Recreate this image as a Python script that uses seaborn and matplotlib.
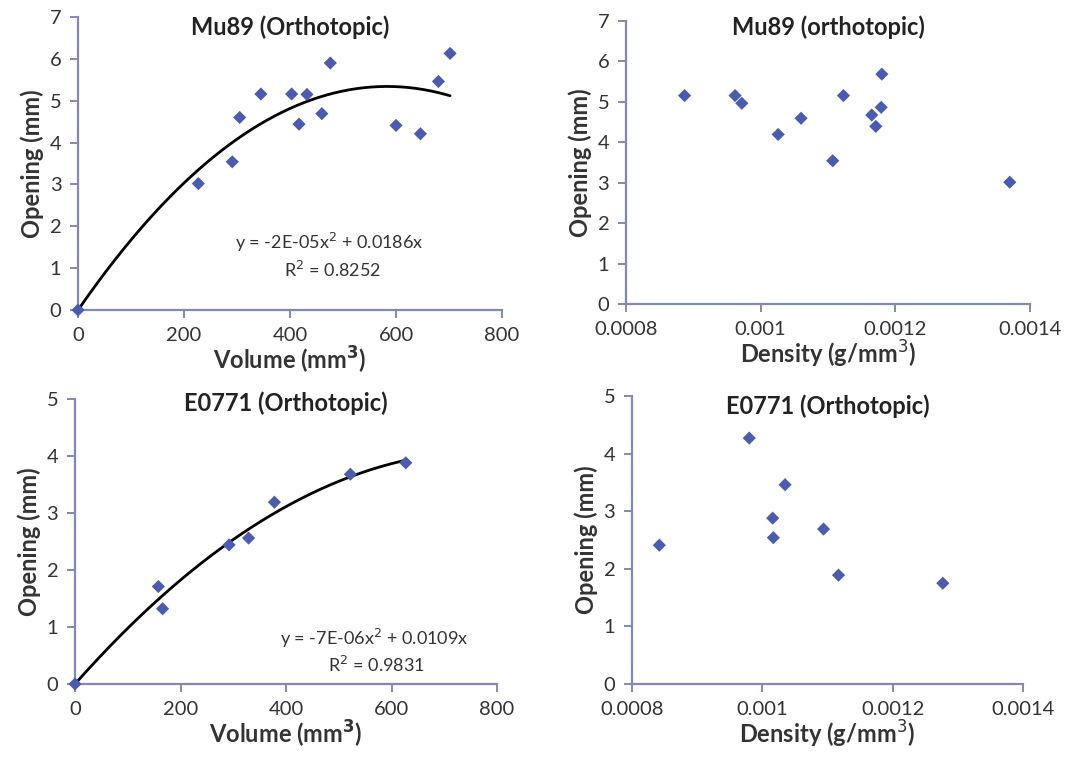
import numpy as np
import pandas as pd
import seaborn as sns
import matplotlib.pyplot as plt

# --------------------
# Data
# --------------------
mu89_volume = [0, 227, 291, 305, 345, 403, 417, 432, 460, 476, 600, 646, 680, 702]
mu89_open_v = [0, 3.02, 3.54, 4.60, 5.16, 5.16, 4.44, 5.15, 4.69, 5.90, 4.41, 4.21, 5.46, 6.13]

mu89_density = [0.000887, 0.000962, 0.000972, 0.001026, 0.001060, 0.001107,
                0.001123, 0.001165, 0.001171, 0.001179, 0.001180, 0.001370]
mu89_open_d = [5.15, 5.15, 4.96, 4.19, 4.59, 3.54, 5.15, 4.67, 4.39, 4.86, 5.68, 3.01]

e0771_volume = [0, 158, 166, 292, 329, 378, 522, 627]
e0771_open_v = [0, 1.71, 1.32, 2.44, 2.56, 3.19, 3.68, 3.88]

e0771_density = [0.000842, 0.000980, 0.001016, 0.001017, 0.001035, 0.001094, 0.001117, 0.001277]
e0771_open_d = [2.41, 4.27, 2.88, 2.54, 3.46, 2.69, 1.89, 1.75]

marker_color = "#4a5bb0"
spine_color = "#8088b8"
text_color = "#333333"

sns.set_style("white")
plt.rcParams["font.family"] = ["Lato", "DejaVu Sans"]

fig = plt.figure(figsize=(10.81, 7.61), dpi=100)
ax1 = fig.add_axes([0.0722, 0.5926, 0.3922, 0.3851])
ax2 = fig.add_axes([0.5791, 0.6005, 0.3737, 0.3723])
ax3 = fig.add_axes([0.0694, 0.1012, 0.3904, 0.3745])
ax4 = fig.add_axes([0.5846, 0.1012, 0.3617, 0.3784])


def style(ax, title, title_y, xlabel, ylim, xlim, xticks, xticklabels):
    ax.set_xlim(*xlim)
    ax.set_ylim(0, ylim)
    ax.set_xticks(xticks)
    ax.set_xticklabels(xticklabels)
    ax.set_yticks(range(0, ylim + 1))
    sns.despine(ax=ax)
    for s in ["left", "bottom"]:
        ax.spines[s].set_color(spine_color)
        ax.spines[s].set_linewidth(1.6)
    ax.tick_params(axis="both", direction="out", length=6, width=1.4,
                   color=spine_color, labelsize=14.5, labelcolor=text_color,
                   left=True, bottom=True, pad=6)
    ax.set_xlabel(xlabel, fontsize=17, fontweight="bold", color=text_color, labelpad=1)
    ax.set_ylabel("Opening (mm)", fontsize=17, fontweight="bold", color=text_color, labelpad=4)
    ax.text(0.5, title_y, title, transform=ax.transAxes, ha="center", va="center",
            fontsize=17, fontweight="bold", color="#222222")


def quad_fit(x, y):
    # trendline through the origin: y = a x^2 + b x
    x = np.asarray(x, float)
    y = np.asarray(y, float)
    A = np.column_stack([x ** 2, x])
    return np.linalg.lstsq(A, y, rcond=None)[0]


def scatter(ax, x, y):
    df = pd.DataFrame({"x": x, "y": y})
    sns.scatterplot(data=df, x="x", y="y", ax=ax, marker="D", s=45,
                    color=marker_color, edgecolor="none", clip_on=False, zorder=4)


# Mu89 volume
scatter(ax1, mu89_volume, mu89_open_v)
a, b = quad_fit(mu89_volume, mu89_open_v)
xs = np.linspace(0, max(mu89_volume), 200)
ax1.plot(xs, a * xs ** 2 + b * xs, color="black", lw=2, zorder=3)
ax1.text(0.37, 0.229, "y = -2E-05x$^2$ + 0.0186x", transform=ax1.transAxes,
         ha="left", va="center", fontsize=13, color=text_color)
ax1.text(0.60, 0.137, "R$^2$ = 0.8252", transform=ax1.transAxes,
         ha="center", va="center", fontsize=13, color=text_color)
style(ax1, "Mu89 (Orthotopic)", 0.966, "Volume (mm$^\\mathbf{3}$)", 7, (0, 800),
      [0, 200, 400, 600, 800], ["0", "200", "400", "600", "800"])

# Mu89 density
scatter(ax2, mu89_density, mu89_open_d)
style(ax2, "Mu89 (orthotopic)", 0.978, "Density (g/mm$^3$)", 7, (0.0008, 0.0014),
      [0.0008, 0.001, 0.0012, 0.0014], ["0.0008", "0.001", "0.0012", "0.0014"])

# E0771 volume
scatter(ax3, e0771_volume, e0771_open_v)
a, b = quad_fit(e0771_volume, e0771_open_v)
xs = np.linspace(0, max(e0771_volume), 200)
ax3.plot(xs, a * xs ** 2 + b * xs, color="black", lw=2, zorder=3)
ax3.text(0.486, 0.161, "y = -7E-06x$^2$ + 0.0109x", transform=ax3.transAxes,
         ha="left", va="center", fontsize=13, color=text_color)
ax3.text(0.715, 0.067, "R$^2$ = 0.9831", transform=ax3.transAxes,
         ha="center", va="center", fontsize=13, color=text_color)
style(ax3, "E0771 (Orthotopic)", 0.986, "Volume (mm$^\\mathbf{3}$)", 5, (0, 800),
      [0, 200, 400, 600, 800], ["0", "200", "400", "600", "800"])

# E0771 density
scatter(ax4, e0771_density, e0771_open_d)
style(ax4, "E0771 (Orthotopic)", 0.965, "Density (g/mm$^3$)", 5, (0.0008, 0.0014),
      [0.0008, 0.001, 0.0012, 0.0014], ["0.0008", "0.001", "0.0012", "0.0014"])

fig.savefig("out.png", dpi=100)
